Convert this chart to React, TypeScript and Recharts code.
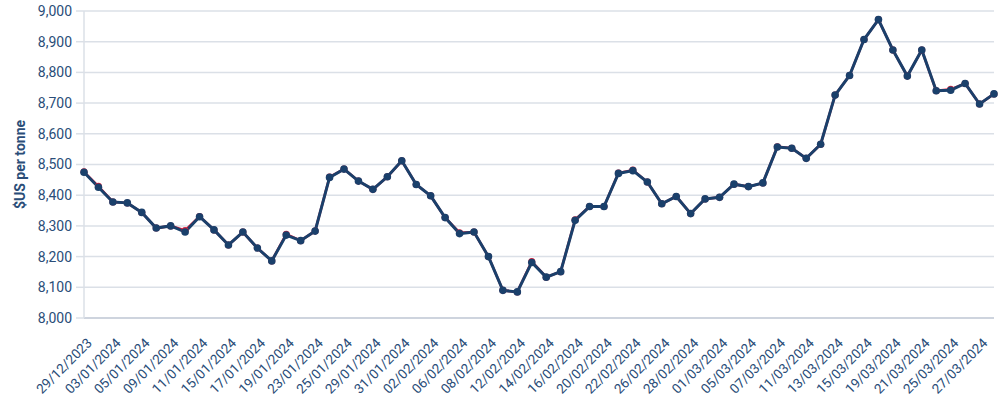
import { LineChart, Line, XAxis, YAxis, CartesianGrid } from 'recharts'

// trading days shown on the chart
const dates = [
  '29/12/2023',
  '02/01/2024', '03/01/2024', '04/01/2024', '05/01/2024', '08/01/2024', '09/01/2024', '10/01/2024',
  '11/01/2024', '12/01/2024', '15/01/2024', '16/01/2024', '17/01/2024', '18/01/2024', '19/01/2024',
  '22/01/2024', '23/01/2024', '24/01/2024', '25/01/2024', '26/01/2024', '29/01/2024', '30/01/2024',
  '31/01/2024',
  '01/02/2024', '02/02/2024', '05/02/2024', '06/02/2024', '07/02/2024', '08/02/2024', '09/02/2024',
  '12/02/2024', '13/02/2024', '14/02/2024', '15/02/2024', '16/02/2024', '19/02/2024', '20/02/2024',
  '21/02/2024', '22/02/2024', '23/02/2024', '26/02/2024', '27/02/2024', '28/02/2024', '29/02/2024',
  '01/03/2024', '04/03/2024', '05/03/2024', '06/03/2024', '07/03/2024', '08/03/2024', '11/03/2024',
  '12/03/2024', '13/03/2024', '14/03/2024', '15/03/2024', '18/03/2024', '19/03/2024', '20/03/2024',
  '21/03/2024', '22/03/2024', '25/03/2024', '26/03/2024', '27/03/2024', '28/03/2024',
]

// main series (dark blue)
const blueValues = [
  8475, 8426, 8378, 8375, 8344, 8293, 8300, 8280, 8330, 8287, 8238, 8280, 8228, 8186, 8270, 8252,
  8283, 8458, 8485, 8446, 8419, 8460, 8512, 8435, 8398, 8327, 8275, 8280, 8200, 8090, 8085, 8181,
  8133, 8151, 8318, 8363, 8363, 8471, 8480, 8443, 8372, 8396, 8340, 8388, 8393, 8436, 8428, 8440,
  8557, 8553, 8520, 8566, 8726, 8790, 8907, 8972, 8873, 8788, 8873, 8740, 8742, 8764, 8697, 8730,
]

// second series (red), mostly hidden under the blue one
const redValues = [
  8476, 8429, 8378, 8375, 8344, 8293, 8300, 8285, 8331, 8287, 8238, 8280, 8228, 8186, 8273, 8252,
  8283, 8459, 8485, 8446, 8419, 8460, 8512, 8435, 8398, 8327, 8278, 8280, 8200, 8090, 8085, 8184,
  8133, 8151, 8320, 8363, 8363, 8472, 8482, 8443, 8372, 8396, 8340, 8388, 8393, 8436, 8428, 8440,
  8558, 8553, 8520, 8566, 8726, 8790, 8907, 8972, 8873, 8788, 8873, 8740, 8745, 8764, 8697, 8730,
]

const yTicks = [8000, 8100, 8200, 8300, 8400, 8500, 8600, 8700, 8800, 8900, 9000]

const data = dates.map((date, i) => ({ date, blue: blueValues[i], red: redValues[i] }))

const BLUE = '#1a406b'
const RED = '#e0213c'
const TEXT = '#2a4d78'
const FONT = 'Roboto, "Noto Sans", sans-serif'

export default function App() {
  return (
    <div style={{ position: 'absolute', left: 0, top: 0, background: '#fff' }}>
      <LineChart
        width={1000}
        height={399}
        data={data}
        margin={{ top: 11, right: 6, bottom: 0, left: 0 }}
      >
        <CartesianGrid vertical={false} stroke="#dbe0e7" strokeWidth={1.5} />
        <XAxis
          dataKey="date"
          interval={1}
          height={81}
          tickLine={false}
          axisLine={{ stroke: '#c7ced8', strokeWidth: 1.5 }}
          tick={{ fill: TEXT, fontSize: 13.5, fontFamily: FONT, angle: -45, textAnchor: 'end', dy: 11, dx: 2 }}
          padding={{ left: 0, right: 0 }}
        />
        <YAxis
          domain={[8000, 9000]}
          ticks={yTicks}
          width={84}
          tickSize={8}
          tickMargin={4}
          tickLine={{ stroke: '#dbe0e7', strokeWidth: 1.5 }}
          axisLine={{ stroke: '#dbe0e7', strokeWidth: 1.5 }}
          tickFormatter={(v: number) => v.toLocaleString('en-US')}
          tick={{ fill: TEXT, fontSize: 14, fontFamily: FONT }}
          label={{
            value: '$US per tonne',
            angle: -90,
            position: 'insideLeft',
            offset: 20,
            style: { fill: TEXT, fontSize: 14, fontWeight: 700, fontFamily: FONT, textAnchor: 'middle' },
          }}
        />
        <Line
          dataKey="red"
          stroke={RED}
          strokeWidth={2.5}
          dot={{ r: 3.5, fill: RED, stroke: RED, strokeWidth: 0 }}
          isAnimationActive={false}
        />
        <Line
          dataKey="blue"
          stroke={BLUE}
          strokeWidth={3}
          dot={{ r: 3.8, fill: BLUE, stroke: BLUE, strokeWidth: 0 }}
          isAnimationActive={false}
        />
      </LineChart>
    </div>
  )
}
